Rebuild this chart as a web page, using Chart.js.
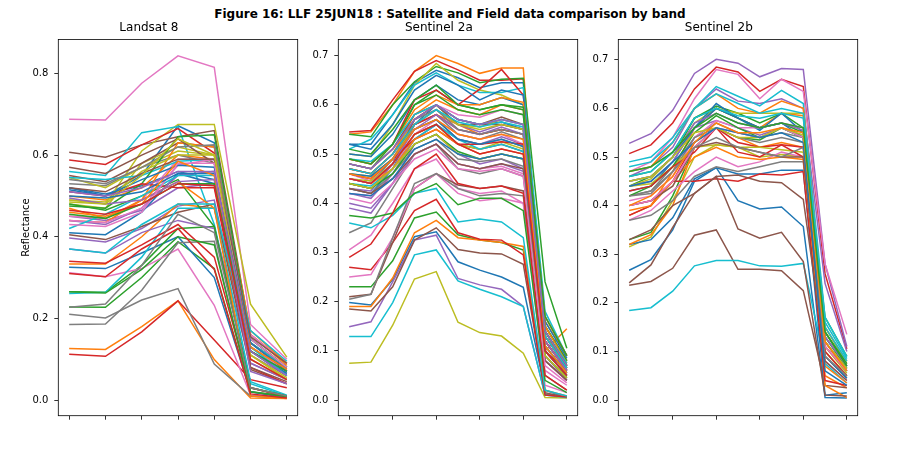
<!DOCTYPE html>
<html>
<head>
<meta charset="utf-8">
<script src="https://cdn.jsdelivr.net/npm/chart.js@4"></script>
<style>
  body { margin: 0; background: #fff; }
  #fig { position: relative; width: 900px; height: 468px; font-family: "DejaVu Sans", sans-serif; background: #fff; }
  #fig canvas { position: absolute; top: 0; }
  #suptitle { position: absolute; left: 0; width: 900px; top: 7px; line-height: 14px; text-align: center; font-weight: bold; font-size: 12px; color: #000; }
</style>
</head>
<body>
<div id="fig">
  <div id="suptitle">Figure 16: LLF 25JUN18 : Satellite and Field data comparison by band</div>
  <canvas id="landsat8" width="310" height="468" style="left:0px"></canvas>
  <canvas id="sentinel2a" width="290" height="468" style="left:300px"></canvas>
  <canvas id="sentinel2b" width="290" height="468" style="left:580px"></canvas>
</div>
<script>
// matplotlib default colour cycle
const tab10 = ['#1f77b4', '#ff7f0e', '#2ca02c', '#d62728', '#9467bd', '#8c564b', '#e377c2', '#7f7f7f', '#bcbd22', '#17becf'];

// band positions and ticks
const l8Bands = [0, 1, 2, 3, 4, 5, 6];
const s2Bands = [0, 1, 2, 3, 4, 5, 6, 7, 8, 9, 10];
const l8XTicks = [0, 1, 2, 3, 4, 5, 6];
const s2XTicks = [0, 2, 4, 6, 8, 10];
const l8YTicks = [0, 0.2, 0.4, 0.6, 0.8];
const s2YTicks = [0, 0.1, 0.2, 0.3, 0.4, 0.5, 0.6, 0.7];

// Landsat 8 reflectance per field point
const landsat8 = [
  [0.52, 0.50, 0.55, 0.672, 0.63, 0.15, 0.08],
  [0.126, 0.124, 0.18, 0.243, 0.099, 0.005, 0.004],
  [0.228, 0.227, 0.30, 0.388, 0.322, 0.02, 0.01],
  [0.112, 0.107, 0.167, 0.243, 0.147, 0.05, 0.03],
  [0.397, 0.387, 0.42, 0.475, 0.49, 0.09, 0.05],
  [0.607, 0.595, 0.625, 0.645, 0.66, 0.16, 0.09],
  [0.688, 0.686, 0.776, 0.843, 0.815, 0.185, 0.10],
  [0.21, 0.201, 0.245, 0.273, 0.088, 0.01, 0.005],
  [0.49, 0.48, 0.61, 0.675, 0.675, 0.235, 0.105],
  [0.56, 0.55, 0.655, 0.67, 0.43, 0.04, 0.01],

  [0.325, 0.322, 0.36, 0.40, 0.30, 0.02, 0.005],
  [0.333, 0.333, 0.40, 0.48, 0.47, 0.12, 0.07],
  [0.265, 0.264, 0.33, 0.42, 0.425, 0.03, 0.01],
  [0.588, 0.577, 0.625, 0.665, 0.605, 0.14, 0.08],
  [0.37, 0.36, 0.41, 0.44, 0.42, 0.09, 0.05],
  [0.405, 0.393, 0.425, 0.46, 0.48, 0.075, 0.04],
  [0.312, 0.302, 0.322, 0.37, 0.232, 0.012, 0.005],
  [0.185, 0.186, 0.269, 0.385, 0.389, 0.01, 0.005],
  [0.48, 0.47, 0.58, 0.62, 0.60, 0.12, 0.06],
  [0.261, 0.264, 0.35, 0.47, 0.47, 0.045, 0.012],

  [0.52, 0.505, 0.525, 0.56, 0.54, 0.13, 0.07],
  [0.50, 0.49, 0.52, 0.60, 0.59, 0.16, 0.085],
  [0.48, 0.465, 0.50, 0.54, 0.425, 0.03, 0.01],
  [0.34, 0.335, 0.38, 0.43, 0.35, 0.03, 0.008],
  [0.45, 0.44, 0.465, 0.52, 0.53, 0.11, 0.06],
  [0.55, 0.535, 0.58, 0.63, 0.62, 0.14, 0.075],
  [0.45, 0.445, 0.49, 0.59, 0.59, 0.16, 0.09],
  [0.53, 0.525, 0.57, 0.60, 0.58, 0.13, 0.07],
  [0.545, 0.52, 0.57, 0.61, 0.60, 0.11, 0.05],
  [0.545, 0.54, 0.55, 0.585, 0.59, 0.14, 0.08],

  [0.41, 0.405, 0.46, 0.555, 0.53, 0.12, 0.06],
  [0.44, 0.435, 0.49, 0.63, 0.62, 0.17, 0.09],
  [0.475, 0.47, 0.53, 0.645, 0.65, 0.15, 0.08],
  [0.51, 0.50, 0.53, 0.52, 0.52, 0.08, 0.04],
  [0.44, 0.43, 0.47, 0.55, 0.56, 0.12, 0.065],
  [0.57, 0.555, 0.60, 0.64, 0.58, 0.08, 0.045],
  [0.44, 0.435, 0.47, 0.575, 0.59, 0.15, 0.08],
  [0.54, 0.53, 0.57, 0.62, 0.625, 0.14, 0.07],
  [0.49, 0.485, 0.56, 0.60, 0.60, 0.11, 0.055],
  [0.42, 0.455, 0.50, 0.55, 0.55, 0.17, 0.095],

  [0.515, 0.50, 0.54, 0.575, 0.57, 0.12, 0.065],
  [0.47, 0.445, 0.49, 0.535, 0.47, 0.01, 0.004],
  [0.265, 0.262, 0.32, 0.40, 0.38, 0.02, 0.008],
  [0.31, 0.302, 0.37, 0.42, 0.32, 0.015, 0.005],
  [0.495, 0.48, 0.49, 0.535, 0.54, 0.07, 0.04],
  [0.52, 0.51, 0.555, 0.59, 0.59, 0.155, 0.09],
  [0.43, 0.425, 0.46, 0.58, 0.58, 0.13, 0.07],
  [0.227, 0.235, 0.33, 0.455, 0.41, 0.03, 0.01],
  [0.485, 0.48, 0.55, 0.64, 0.60, 0.10, 0.05],
  [0.37, 0.36, 0.43, 0.48, 0.48, 0.13, 0.06],

  [0.50, 0.495, 0.51, 0.555, 0.555, 0.14, 0.07],
  [0.46, 0.45, 0.48, 0.585, 0.55, 0.13, 0.075],
  [0.455, 0.445, 0.48, 0.53, 0.53, 0.12, 0.07],
  [0.465, 0.455, 0.48, 0.53, 0.525, 0.10, 0.05],
  [0.51, 0.50, 0.52, 0.56, 0.56, 0.12, 0.06]
];

// Sentinel 2a reflectance per field point
const sentinel2a = [
  [0.198, 0.193, 0.245, 0.332, 0.342, 0.281, 0.264, 0.250, 0.229, 0.020, 0.005],
  [0.540, 0.545, 0.600, 0.668, 0.700, 0.684, 0.664, 0.675, 0.675, 0.100, 0.145],
  [0.230, 0.230, 0.283, 0.370, 0.382, 0.336, 0.325, 0.320, 0.305, 0.012, 0.006],
  [0.545, 0.548, 0.610, 0.668, 0.690, 0.671, 0.650, 0.650, 0.653, 0.100, 0.060],
  [0.149, 0.159, 0.240, 0.325, 0.335, 0.247, 0.234, 0.225, 0.190, 0.010, 0.008],
  [0.185, 0.181, 0.230, 0.325, 0.350, 0.306, 0.299, 0.297, 0.276, 0.015, 0.005],
  [0.305, 0.335, 0.400, 0.470, 0.490, 0.430, 0.420, 0.425, 0.400, 0.030, 0.015],
  [0.340, 0.360, 0.430, 0.500, 0.520, 0.470, 0.460, 0.470, 0.455, 0.080, 0.040],
  [0.0745, 0.077, 0.152, 0.246, 0.261, 0.158, 0.137, 0.130, 0.095, 0.005, 0.004],
  [0.129, 0.129, 0.198, 0.295, 0.305, 0.242, 0.225, 0.210, 0.190, 0.010, 0.005],

  [0.520, 0.520, 0.580, 0.645, 0.670, 0.655, 0.635, 0.645, 0.645, 0.120, 0.060],
  [0.190, 0.190, 0.248, 0.340, 0.365, 0.330, 0.325, 0.320, 0.312, 0.020, 0.008],
  [0.540, 0.535, 0.600, 0.647, 0.678, 0.665, 0.645, 0.652, 0.654, 0.240, 0.105],
  [0.270, 0.265, 0.320, 0.385, 0.408, 0.340, 0.327, 0.325, 0.295, 0.010, 0.006],
  [0.390, 0.380, 0.440, 0.520, 0.540, 0.500, 0.480, 0.490, 0.470, 0.090, 0.040],
  [0.210, 0.215, 0.320, 0.430, 0.460, 0.437, 0.430, 0.435, 0.425, 0.100, 0.050],
  [0.250, 0.255, 0.330, 0.430, 0.460, 0.420, 0.405, 0.410, 0.400, 0.060, 0.030],
  [0.205, 0.215, 0.330, 0.440, 0.460, 0.430, 0.415, 0.420, 0.415, 0.050, 0.020],
  [0.500, 0.495, 0.560, 0.640, 0.684, 0.650, 0.630, 0.620, 0.600, 0.150, 0.080],
  [0.360, 0.350, 0.375, 0.420, 0.430, 0.362, 0.368, 0.362, 0.330, 0.020, 0.008],

  [0.430, 0.420, 0.470, 0.560, 0.600, 0.570, 0.560, 0.565, 0.550, 0.150, 0.080],
  [0.440, 0.430, 0.480, 0.560, 0.580, 0.560, 0.540, 0.550, 0.540, 0.160, 0.090],
  [0.375, 0.370, 0.380, 0.420, 0.440, 0.397, 0.410, 0.410, 0.385, 0.040, 0.015],
  [0.290, 0.317, 0.380, 0.470, 0.500, 0.440, 0.430, 0.435, 0.420, 0.050, 0.020],
  [0.430, 0.425, 0.480, 0.560, 0.590, 0.560, 0.545, 0.560, 0.550, 0.130, 0.070],
  [0.440, 0.430, 0.470, 0.540, 0.560, 0.520, 0.510, 0.520, 0.505, 0.120, 0.060],
  [0.460, 0.445, 0.490, 0.570, 0.600, 0.580, 0.575, 0.590, 0.580, 0.170, 0.090],
  [0.450, 0.440, 0.490, 0.560, 0.580, 0.540, 0.530, 0.545, 0.530, 0.140, 0.070],
  [0.470, 0.460, 0.500, 0.570, 0.600, 0.560, 0.555, 0.570, 0.560, 0.150, 0.080],
  [0.510, 0.530, 0.580, 0.640, 0.665, 0.640, 0.625, 0.625, 0.635, 0.180, 0.090],

  [0.500, 0.495, 0.540, 0.610, 0.640, 0.610, 0.600, 0.615, 0.600, 0.160, 0.085],
  [0.470, 0.460, 0.500, 0.580, 0.610, 0.590, 0.580, 0.600, 0.590, 0.170, 0.090],
  [0.480, 0.470, 0.520, 0.600, 0.630, 0.600, 0.590, 0.600, 0.590, 0.150, 0.080],
  [0.490, 0.480, 0.520, 0.610, 0.630, 0.600, 0.632, 0.672, 0.620, 0.140, 0.070],
  [0.420, 0.410, 0.460, 0.530, 0.560, 0.530, 0.520, 0.535, 0.520, 0.120, 0.060],
  [0.450, 0.440, 0.480, 0.570, 0.600, 0.560, 0.560, 0.575, 0.560, 0.110, 0.055],
  [0.440, 0.430, 0.470, 0.540, 0.570, 0.540, 0.530, 0.540, 0.520, 0.130, 0.065],
  [0.460, 0.450, 0.490, 0.550, 0.570, 0.530, 0.520, 0.530, 0.515, 0.090, 0.045],
  [0.450, 0.445, 0.480, 0.540, 0.560, 0.520, 0.510, 0.525, 0.510, 0.120, 0.060],
  [0.440, 0.435, 0.470, 0.530, 0.560, 0.530, 0.510, 0.520, 0.505, 0.110, 0.055],

  [0.520, 0.510, 0.560, 0.630, 0.660, 0.640, 0.610, 0.630, 0.620, 0.140, 0.070],
  [0.490, 0.480, 0.520, 0.590, 0.620, 0.600, 0.600, 0.615, 0.605, 0.150, 0.075],
  [0.510, 0.500, 0.550, 0.610, 0.640, 0.600, 0.590, 0.600, 0.595, 0.170, 0.090],
  [0.460, 0.450, 0.490, 0.530, 0.550, 0.520, 0.520, 0.525, 0.520, 0.120, 0.060],
  [0.400, 0.390, 0.440, 0.500, 0.520, 0.480, 0.470, 0.480, 0.465, 0.080, 0.040],
  [0.480, 0.470, 0.510, 0.580, 0.600, 0.570, 0.560, 0.560, 0.550, 0.130, 0.065],
  [0.420, 0.415, 0.450, 0.500, 0.520, 0.480, 0.470, 0.475, 0.460, 0.090, 0.045],
  [0.430, 0.420, 0.460, 0.510, 0.530, 0.490, 0.485, 0.490, 0.475, 0.100, 0.050],
  [0.460, 0.455, 0.490, 0.560, 0.590, 0.560, 0.550, 0.560, 0.550, 0.130, 0.070],
  [0.490, 0.485, 0.520, 0.580, 0.600, 0.570, 0.560, 0.570, 0.560, 0.140, 0.075],

  [0.460, 0.455, 0.490, 0.550, 0.570, 0.530, 0.520, 0.530, 0.515, 0.110, 0.055],
  [0.450, 0.440, 0.470, 0.530, 0.550, 0.520, 0.500, 0.510, 0.500, 0.100, 0.050],
  [0.440, 0.430, 0.460, 0.520, 0.540, 0.505, 0.490, 0.500, 0.490, 0.090, 0.045],
  [0.470, 0.460, 0.500, 0.560, 0.580, 0.550, 0.540, 0.550, 0.540, 0.130, 0.065],
  [0.450, 0.440, 0.480, 0.550, 0.580, 0.550, 0.540, 0.555, 0.540, 0.120, 0.060],
  [0.430, 0.420, 0.450, 0.500, 0.520, 0.480, 0.470, 0.480, 0.470, 0.080, 0.040],
  [0.410, 0.400, 0.440, 0.490, 0.510, 0.470, 0.465, 0.470, 0.455, 0.070, 0.035],
  [0.480, 0.470, 0.510, 0.570, 0.590, 0.550, 0.540, 0.550, 0.540, 0.130, 0.065],
  [0.440, 0.430, 0.470, 0.520, 0.540, 0.500, 0.490, 0.500, 0.490, 0.090, 0.045],
  [0.470, 0.460, 0.500, 0.560, 0.590, 0.565, 0.555, 0.565, 0.555, 0.130, 0.065],

  [0.420, 0.415, 0.450, 0.510, 0.530, 0.500, 0.490, 0.500, 0.490, 0.100, 0.050],
  [0.460, 0.450, 0.490, 0.550, 0.570, 0.540, 0.530, 0.540, 0.530, 0.110, 0.055],
  [0.490, 0.480, 0.520, 0.600, 0.620, 0.590, 0.580, 0.590, 0.580, 0.140, 0.070],
  [0.450, 0.440, 0.480, 0.540, 0.560, 0.520, 0.500, 0.510, 0.500, 0.100, 0.050],
  [0.480, 0.470, 0.510, 0.570, 0.600, 0.570, 0.560, 0.570, 0.560, 0.140, 0.070]
];

// Sentinel 2b reflectance per field point
const sentinel2b = [
  [0.267, 0.289, 0.350, 0.450, 0.478, 0.410, 0.393, 0.397, 0.357, 0.005, 0.004],
  [0.380, 0.400, 0.470, 0.560, 0.600, 0.580, 0.560, 0.590, 0.585, 0.050, 0.025],
  [0.330, 0.345, 0.420, 0.520, 0.560, 0.540, 0.535, 0.560, 0.540, 0.120, 0.060],
  [0.507, 0.525, 0.570, 0.640, 0.685, 0.675, 0.635, 0.660, 0.645, 0.260, 0.105],
  [0.528, 0.548, 0.596, 0.672, 0.701, 0.693, 0.665, 0.682, 0.680, 0.280, 0.110],
  [0.236, 0.244, 0.271, 0.339, 0.350, 0.269, 0.269, 0.266, 0.225, 0.030, 0.025],
  [0.470, 0.490, 0.540, 0.620, 0.680, 0.670, 0.620, 0.660, 0.635, 0.280, 0.135],
  [0.420, 0.430, 0.480, 0.540, 0.570, 0.550, 0.540, 0.550, 0.540, 0.140, 0.070],
  [0.315, 0.335, 0.410, 0.500, 0.525, 0.520, 0.500, 0.505, 0.500, 0.110, 0.055],
  [0.184, 0.190, 0.224, 0.276, 0.287, 0.287, 0.276, 0.275, 0.281, 0.075, 0.035],

  [0.320, 0.330, 0.375, 0.455, 0.478, 0.465, 0.465, 0.473, 0.473, 0.010, 0.015],
  [0.320, 0.340, 0.400, 0.520, 0.560, 0.540, 0.520, 0.530, 0.520, 0.030, 0.005],
  [0.440, 0.460, 0.500, 0.580, 0.605, 0.590, 0.570, 0.590, 0.560, 0.170, 0.090],
  [0.380, 0.400, 0.450, 0.450, 0.455, 0.450, 0.465, 0.463, 0.470, 0.040, 0.030],
  [0.460, 0.480, 0.520, 0.600, 0.640, 0.615, 0.610, 0.620, 0.600, 0.240, 0.100],
  [0.241, 0.278, 0.355, 0.425, 0.460, 0.352, 0.333, 0.345, 0.285, 0.010, 0.008],
  [0.370, 0.390, 0.430, 0.470, 0.500, 0.480, 0.490, 0.510, 0.500, 0.080, 0.040],
  [0.370, 0.380, 0.410, 0.460, 0.480, 0.470, 0.480, 0.490, 0.490, 0.100, 0.050],
  [0.440, 0.455, 0.500, 0.570, 0.600, 0.590, 0.590, 0.590, 0.590, 0.150, 0.075],
  [0.490, 0.500, 0.540, 0.600, 0.645, 0.625, 0.605, 0.637, 0.610, 0.170, 0.090],

  [0.430, 0.440, 0.490, 0.560, 0.610, 0.580, 0.555, 0.590, 0.550, 0.130, 0.070],
  [0.470, 0.480, 0.530, 0.600, 0.630, 0.600, 0.590, 0.615, 0.600, 0.150, 0.080],
  [0.460, 0.470, 0.510, 0.580, 0.600, 0.580, 0.560, 0.570, 0.550, 0.140, 0.075],
  [0.400, 0.410, 0.450, 0.530, 0.560, 0.530, 0.520, 0.525, 0.520, 0.110, 0.060],
  [0.440, 0.450, 0.490, 0.560, 0.575, 0.560, 0.545, 0.560, 0.540, 0.120, 0.065],
  [0.330, 0.350, 0.400, 0.425, 0.460, 0.463, 0.450, 0.447, 0.413, 0.090, 0.045],
  [0.410, 0.420, 0.460, 0.540, 0.575, 0.560, 0.560, 0.570, 0.560, 0.130, 0.070],
  [0.420, 0.430, 0.470, 0.540, 0.560, 0.540, 0.530, 0.540, 0.530, 0.120, 0.060],
  [0.440, 0.445, 0.480, 0.520, 0.525, 0.520, 0.520, 0.515, 0.510, 0.100, 0.050],
  [0.480, 0.490, 0.530, 0.600, 0.630, 0.610, 0.590, 0.600, 0.590, 0.160, 0.085],

  [0.450, 0.460, 0.500, 0.560, 0.600, 0.580, 0.560, 0.570, 0.540, 0.090, 0.045],
  [0.390, 0.400, 0.450, 0.500, 0.520, 0.500, 0.495, 0.500, 0.495, 0.070, 0.035],
  [0.420, 0.440, 0.480, 0.550, 0.585, 0.560, 0.540, 0.560, 0.540, 0.130, 0.065],
  [0.430, 0.440, 0.480, 0.510, 0.560, 0.510, 0.500, 0.525, 0.500, 0.100, 0.050],
  [0.450, 0.460, 0.500, 0.570, 0.590, 0.570, 0.560, 0.570, 0.555, 0.130, 0.070],
  [0.400, 0.410, 0.440, 0.520, 0.530, 0.520, 0.510, 0.500, 0.500, 0.080, 0.040],
  [0.400, 0.410, 0.450, 0.520, 0.560, 0.550, 0.540, 0.560, 0.540, 0.110, 0.060],
  [0.420, 0.425, 0.470, 0.520, 0.540, 0.520, 0.510, 0.500, 0.520, 0.090, 0.050],
  [0.450, 0.460, 0.500, 0.550, 0.560, 0.540, 0.540, 0.560, 0.545, 0.120, 0.065],
  [0.460, 0.470, 0.510, 0.580, 0.600, 0.585, 0.580, 0.590, 0.580, 0.150, 0.080],

  [0.440, 0.450, 0.490, 0.530, 0.560, 0.550, 0.540, 0.550, 0.530, 0.060, 0.030],
  [0.400, 0.420, 0.460, 0.530, 0.570, 0.550, 0.550, 0.560, 0.550, 0.120, 0.060],
  [0.470, 0.480, 0.510, 0.560, 0.590, 0.570, 0.560, 0.570, 0.560, 0.140, 0.070]
];

Chart.defaults.font.family = '"DejaVu Sans", sans-serif';
Chart.defaults.color = '#000';

// black frame round each plot area, like matplotlib spines
const frameBox = {
  id: 'frameBox',
  afterDraw(chart) {
    const { ctx, chartArea: a } = chart;
    ctx.save();
    ctx.strokeStyle = '#000';
    ctx.lineWidth = 0.8;
    ctx.strokeRect(a.left, a.top, a.right - a.left, a.bottom - a.top);
    ctx.restore();
  }
};

const tickGrid = { drawOnChartArea: false, drawTicks: true, tickLength: 4, color: '#000', lineWidth: 0.8 };

function makePanel(id, title, bands, series, xLim, yLim, xTicks, yTicks, yAxisWidth, yTitle) {
  return new Chart(document.getElementById(id), {
    type: 'line',
    data: {
      datasets: series.map((vals, i) => ({
        data: vals.map((v, j) => ({ x: bands[j], y: v })),
        borderColor: tab10[i % 10],
        borderWidth: 1.5,
        pointRadius: 0,
        fill: false,
        tension: 0,
        order: -i
      }))
    },
    options: {
      responsive: false,
      animation: false,
      layout: { padding: { left: 0, right: 12.3, top: 0, bottom: 0 } },
      plugins: {
        legend: { display: false },
        tooltip: { enabled: false },
        title: {
          display: true,
          text: title,
          color: '#000',
          font: { size: 12, weight: 'normal' },
          padding: { top: 21, bottom: 4 }
        }
      },
      scales: {
        x: {
          type: 'linear',
          min: xLim[0],
          max: xLim[1],
          afterBuildTicks: s => { s.ticks = xTicks.map(v => ({ value: v })); },
          afterFit: s => { s.height = 52.3; },
          ticks: { display: false },
          grid: tickGrid,
          border: { display: false }
        },
        y: {
          type: 'linear',
          min: yLim[0],
          max: yLim[1],
          afterBuildTicks: s => { s.ticks = yTicks.map(v => ({ value: v })); },
          afterFit: s => { s.width = yAxisWidth; },
          ticks: { color: '#000', font: { size: 10 }, padding: 6, callback: v => v.toFixed(1) },
          grid: tickGrid,
          border: { display: false },
          title: {
            display: !!yTitle,
            text: yTitle || '',
            color: '#000',
            font: { size: 10 },
            padding: { top: 20, bottom: 0 }
          }
        }
      }
    },
    plugins: [frameBox]
  });
}

makePanel('landsat8', 'Landsat 8', l8Bands, landsat8, [-0.3, 6.3], [-0.0384, 0.8834], l8XTicks, l8YTicks, 58.3, 'Reflectance');
makePanel('sentinel2a', 'Sentinel 2a', s2Bands, sentinel2a, [-0.5, 10.5], [-0.0319, 0.733], s2XTicks, s2YTicks, 38.3);
makePanel('sentinel2b', 'Sentinel 2b', s2Bands, sentinel2b, [-0.5, 10.5], [-0.0323, 0.742], s2XTicks, s2YTicks, 38.3);
</script>
</body>
</html>
